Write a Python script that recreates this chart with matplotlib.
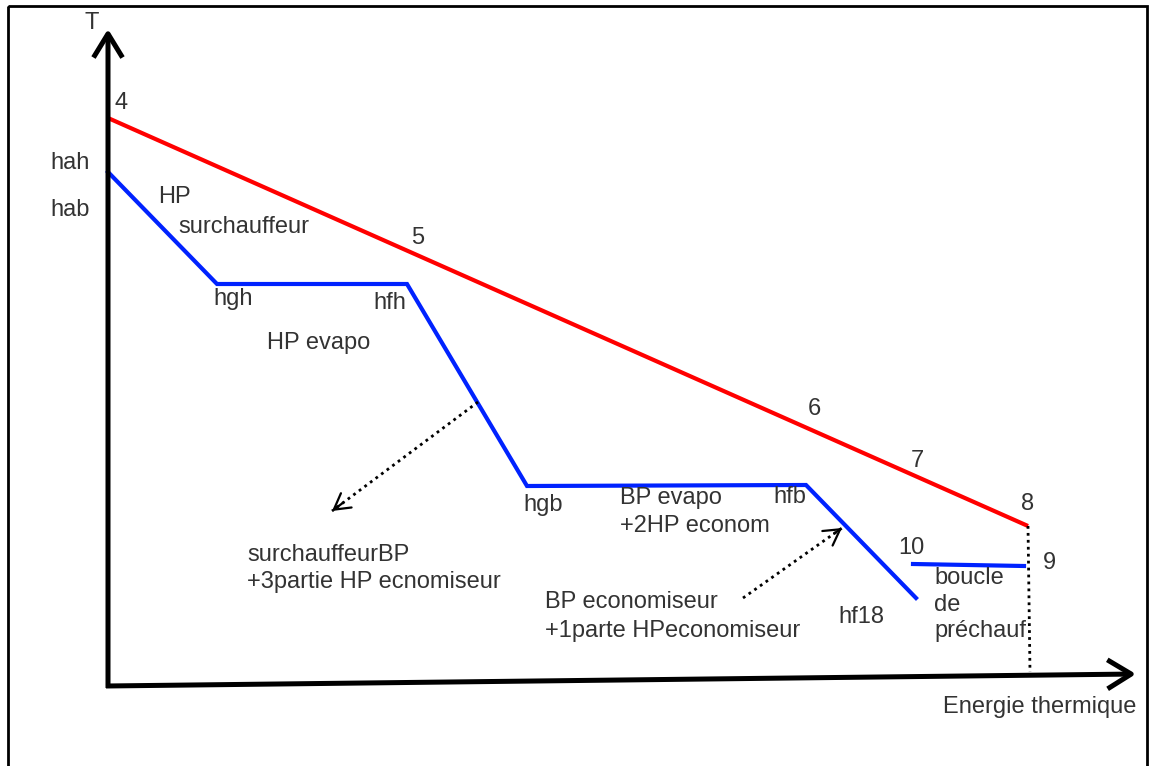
import matplotlib.pyplot as plt
from matplotlib.patches import Rectangle

plt.rcParams['font.family'] = ['Liberation Sans', 'DejaVu Sans']

# diagram coordinates (pixels of the sketch, y pointing down)
fumees_x = [108, 1028]
fumees_y = [118, 526]
eau_x = [108, 217, 407, 527, 806, 916]
eau_y = [172, 284, 284, 486, 485, 598]
boucle_x = [913, 1024]
boucle_y = [564, 566]

labels = [
    ('T', 92, 23), ('4', 121, 103), ('hah', 70, 163), ('hab', 70, 210),
    ('HP', 158, 197), ('surchauffeur', 178, 227), ('5', 418, 238),
    ('hgh', 213, 299), ('hfh', 373, 303), ('HP evapo', 267, 343),
    ('6', 814, 409), ('7', 917, 461), ('8', 1028, 504),
    ('hgb', 523, 505), ('BP evapo', 620, 498), ('+2HP econom', 620, 526),
    ('hfb', 773, 497), ('surchauffeurBP', 247, 555),
    ('+3partie HP ecnomiseur', 247, 582), ('BP economiseur', 545, 602),
    ('+1parte HPeconomiseur', 545, 631), ('hf18', 838, 617),
    ('10', 911, 548), ('9', 1049, 563), ('boucle', 934, 578),
    ('de', 934, 605), ('préchauf', 934, 631), ('Energie thermique', 943, 707),
]
centered = {'T', '4', '5', '6', '7', '8', '9', '10', 'hah', 'hab'}

# dotted arrows: (start, end)
renvois = [((478, 402), (332, 511)), ((743, 598), (842, 528))]

fig = plt.figure(figsize=(11.49, 7.66), dpi=100)
ax = fig.add_axes([0, 0, 1, 1])
ax.set_xlim(0, 1149)
ax.set_ylim(766, 0)
ax.axis('off')

# frame
ax.add_patch(Rectangle((8, 6), 1139, 780, fill=False, lw=2, ec='black'))

# axes with open arrow heads
head = '->,head_length=0.9,head_width=0.55'
ax.annotate('', xy=(108, 29), xytext=(108, 688),
            arrowprops=dict(arrowstyle=head, lw=3.6, color='black',
                            mutation_scale=19, shrinkA=0, shrinkB=0,
                            capstyle='butt'))
ax.annotate('', xy=(1136, 674), xytext=(106, 686),
            arrowprops=dict(arrowstyle=head, lw=3.6, color='black',
                            mutation_scale=19, shrinkA=0, shrinkB=0,
                            capstyle='butt'))

ax.plot(fumees_x, fumees_y, color='#ff0000', lw=3, solid_capstyle='butt')
ax.plot(eau_x, eau_y, color='#0022ff', lw=3, solid_joinstyle='miter')
ax.plot(boucle_x, boucle_y, color='#0022ff', lw=3)

# dotted guides
ax.plot([1028, 1030], [526, 672], color='black', lw=2, ls=(0, (1, 1.5)))
for (x0, y0), (x1, y1) in renvois:
    ax.plot([x0, x1], [y0, y1], color='black', lw=2, ls=(0, (1, 1.5)))
    dx, dy = (x1 - x0) * 0.08, (y1 - y0) * 0.08
    ax.annotate('', xy=(x1, y1), xytext=(x1 - dx, y1 - dy),
                arrowprops=dict(arrowstyle='->,head_length=0.7,head_width=0.4',
                                lw=1.6, color='black', mutation_scale=16,
                                shrinkA=0, shrinkB=0))

for txt, x, y in labels:
    ha = 'center' if txt in centered else 'left'
    ax.text(x, y, txt, fontsize=17, color='#333333', ha=ha, va='center')

fig.savefig('out.png', dpi=100)
